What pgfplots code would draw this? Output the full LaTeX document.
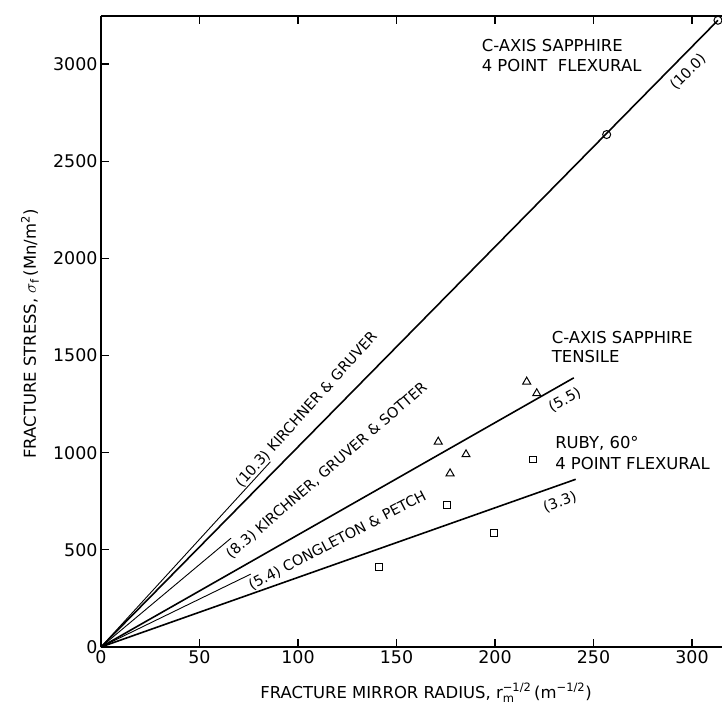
\documentclass[border=0pt]{standalone}
\usepackage{amsmath}
\usepackage{pgfplots}
\pgfplotsset{compat=1.18}
\usepackage{fontspec}
\setmainfont{DejaVu Sans}

\begin{document}
\begin{tikzpicture}
\begin{axis}[
  at={(0,0)}, anchor=south west,
  scale only axis,
  width=621.5bp, height=631bp,
  xmin=0, xmax=315.5, ymin=0, ymax=3247,
  axis x line*=box, axis y line*=left,
  xtick={0,50,...,300}, ytick={0,500,...,3000},
  tick align=inside,
  major tick length=8bp,
  axis line style={line width=1.1bp},
  tick style={line width=1.1bp, black},
  /pgf/number format/assume math mode=true,
  /pgf/number format/1000 sep={},
  tick label style={font=\fontsize{17.5}{20}\selectfont},
  xlabel={FRACTURE MIRROR RADIUS, r$^{\text{−1/2}}_{\text{m}}$\,(m$^{\text{−1/2}}$)},
  ylabel={FRACTURE STRESS, $\sigma_{\text{f}}$\,(Mn/m$^{\text{2}}$)},
  every axis x label/.style={at={(axis description cs:0.523,0)}, anchor=base, yshift=-51bp, font=\fontsize{16.5}{19}\selectfont},
  every axis y label/.style={at={(axis description cs:0,0.496)}, xshift=-71bp, rotate=90, anchor=center, font=\fontsize{16.5}{19}\selectfont},
  clip=false,
]
% lines
\addplot[line width=1.6bp] coordinates {(0,0) (313.2,3225)};
\addplot[line width=0.9bp] coordinates {(0,0) (86,953)};
\addplot[line width=0.9bp] coordinates {(0,0) (66,560)};
\addplot[line width=1.6bp] coordinates {(0,0) (240,1385)};
\addplot[line width=0.9bp] coordinates {(0,0) (76,375)};
\addplot[line width=1.6bp] coordinates {(0,0) (241,863)};
% C-axis sapphire 4 point flexural
\addplot[only marks, mark=o, mark size=4bp, mark options={fill=white, line width=1bp}] coordinates {(256.7,2637) (313.2,3225)};
% C-axis sapphire tensile
\addplot[only marks, mark=triangle, mark size=4.6bp, mark options={line width=1bp}] coordinates {(216.1,1365) (221.2,1305) (171.2,1056) (185.3,991) (177.2,893)};
% Ruby
\addplot[only marks, mark=square, mark size=3.4bp, mark options={line width=1bp}] coordinates {(219.4,965) (175.8,730) (199.6,585) (141.1,413)};

\begin{scope}[every node/.style={font=\fontsize{16.5}{19}\selectfont, inner sep=0pt}]
\node[anchor=base west] at (axis cs:193.2,3064) {C-AXIS SAPPHIRE};
\node[anchor=base west] at (axis cs:193.2,2961) {4 POINT\ \ FLEXURAL};
\node[anchor=base west] at (axis cs:228.8,1563) {C-AXIS SAPPHIRE};
\node[anchor=base west] at (axis cs:228.8,1462) {TENSILE};
\node[anchor=base west] at (axis cs:230.5,1023) {RUBY, 60°};
\node[anchor=base west] at (axis cs:230.5,911) {4 POINT FLEXURAL};
\end{scope}
\begin{scope}[every node/.style={font=\fontsize{14.5}{17}\selectfont, inner sep=0pt}]
\node[rotate=45] at (axis cs:298,2959) {(10.0)};
\node[rotate=28] at (axis cs:235.5,1271) {(5.5)};
\node[rotate=20] at (axis cs:233,746) {(3.3)};
\node[rotate=48] at (axis cs:104.3,1222) {(10.3) KIRCHNER \& GRUVER};
\node[rotate=41] at (axis cs:114.6,907) {(8.3) KIRCHNER, GRUVER \& SOTTER};
\node[rotate=27.5] at (axis cs:120,546) {(5.4) CONGLETON \& PETCH};
\end{scope}
\end{axis}
\pgfresetboundingbox
\path (-101bp,-59bp) rectangle (621bp,647bp);
\end{tikzpicture}
\end{document}
